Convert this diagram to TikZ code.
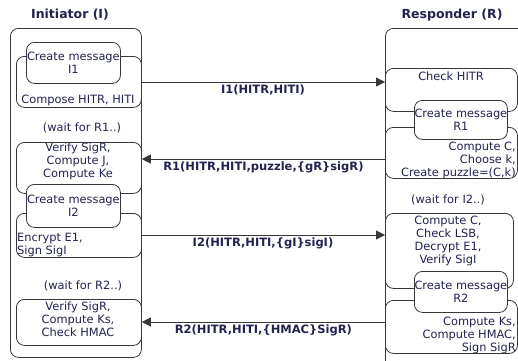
\documentclass[tikz,border=0pt]{standalone}
\usepackage{fontspec}
\setmainfont{DejaVu Sans}
\usetikzlibrary{arrows.meta}

\definecolor{inkc}{RGB}{35,35,80}
\definecolor{edgec}{RGB}{55,55,55}

\begin{document}
\begin{tikzpicture}[x=1pt,y=-1pt,
  lifeline/.style={draw=edgec,rounded corners=8pt,line width=0.8pt,anchor=north west,inner sep=0pt},
  box/.style={draw=edgec,fill=white,rounded corners=8pt,line width=0.8pt,anchor=north west,inner sep=0pt,minimum width=125pt},
  msgbox/.style={draw=edgec,fill=white,rounded corners=8pt,line width=0.8pt,anchor=north west,inner sep=0pt,
    minimum width=94pt,minimum height=41pt,align=center,text=inkc,font=\fontsize{11.4}{13}\selectfont},
  txt/.style={text=inkc,inner sep=0pt,font=\fontsize{11.4}{13}\selectfont},
  head/.style={text=inkc,inner sep=0pt,font=\fontsize{12.5}{14}\selectfont\bfseries},
  lbl/.style={text=inkc,inner sep=0pt,font=\fontsize{11.5}{13}\selectfont\bfseries},
  msg/.style={draw=edgec,line width=0.8pt,-{Triangle[length=9pt,width=9pt]}}]
  \useasboundingbox (0,0) rectangle (518,360);

  \node[head] (initiator) at (70,15) {Initiator (I)};
  \node[head] (responder) at (452,15) {Responder (R)};

  \node[lifeline,minimum width=131pt,minimum height=329pt] (ini) at (10,28) {};
  \node[lifeline,minimum width=150pt,minimum height=350pt] (resp) at (385,28) {};

  \node[box,minimum height=51pt] (compose) at (16,56) {};
  \node[txt] (composetxt) at (78,100) {Compose HITR, HITI};
  \node[msgbox] (cmI1) at (26,42) {Create message\\I1};
  \node[txt] (waitR1) at (82,128) {(wait for R1..)};
  \node[box,minimum height=51pt] (verifyJ) at (16,142) {};
  \node[txt,align=center] (verifyJtxt) at (78,161.5) {Verify SigR,\\Compute J,\\Compute Ke};
  \node[box,minimum height=44pt] (encrypt) at (16,213) {};
  \node[txt,align=left,anchor=west] (encrypttxt) at (17,245.5) {Encrypt E1,\\Sign SigI};
  \node[msgbox,minimum height=43pt] (cmI2) at (26,184) {Create message\\I2};
  \node[txt] (waitR2) at (83,286) {(wait for R2..)};
  \node[box,minimum height=46pt] (verifyKs) at (16,299) {};
  \node[txt,align=center] (verifyKstxt) at (78,319.5) {Verify SigR,\\Compute Ks,\\Check HMAC};

  \node[box,minimum width=132pt,minimum height=43pt] (check) at (385,68) {};
  \node[txt] (checktxt) at (451,76) {Check HITR};
  \node[box,minimum width=132pt,minimum height=51pt] (puzzle) at (385,127) {};
  \node[txt,align=right,anchor=east] (puzzletxt) at (516,160) {Compute C,\\Choose k,\\Create puzzle=(C,k)};
  \node[msgbox,minimum width=93pt,minimum height=39pt] (cmR1) at (414,100) {Create message\\R1};
  \node[txt] (waitI2) at (448,200) {(wait for I2..)};
  \node[box,minimum width=128pt,minimum height=75pt] (decrypt) at (385,213) {};
  \node[txt,align=center] (decrypttxt) at (448,241) {Compute C,\\Check LSB,\\Decrypt E1,\\Verify SigI};
  \node[box,minimum width=132pt,minimum height=53pt] (sign) at (385,300) {};
  \node[txt,align=right,anchor=east] (signtxt) at (516,335) {Compute Ks,\\Compute HMAC,\\Sign SigR};
  \node[msgbox,minimum width=93pt,minimum height=41pt] (cmR2) at (414,271) {Create message\\R2};

  \coordinate (i1) at (141,82);
  \coordinate (r1) at (385,159);
  \coordinate (i2) at (141,235);
  \coordinate (r2) at (385,322);
  \draw[msg] (i1) -- (i1 -| resp.west) node[lbl,midway,below=2.5pt] {I1(HITR,HITI)};
  \draw[msg] (r1) -- (r1 -| ini.east) node[lbl,midway,below=2.5pt] {R1(HITR,HITI,puzzle,\{gR\}sigR)};
  \draw[msg] (i2) -- (i2 -| resp.west) node[lbl,midway,below=2.5pt] {I2(HITR,HITI,\{gI\}sigI)};
  \draw[msg] (r2) -- (r2 -| ini.east) node[lbl,midway,below=2.5pt] {R2(HITR,HITI,\{HMAC\}SigR)};
\end{tikzpicture}
\end{document}
